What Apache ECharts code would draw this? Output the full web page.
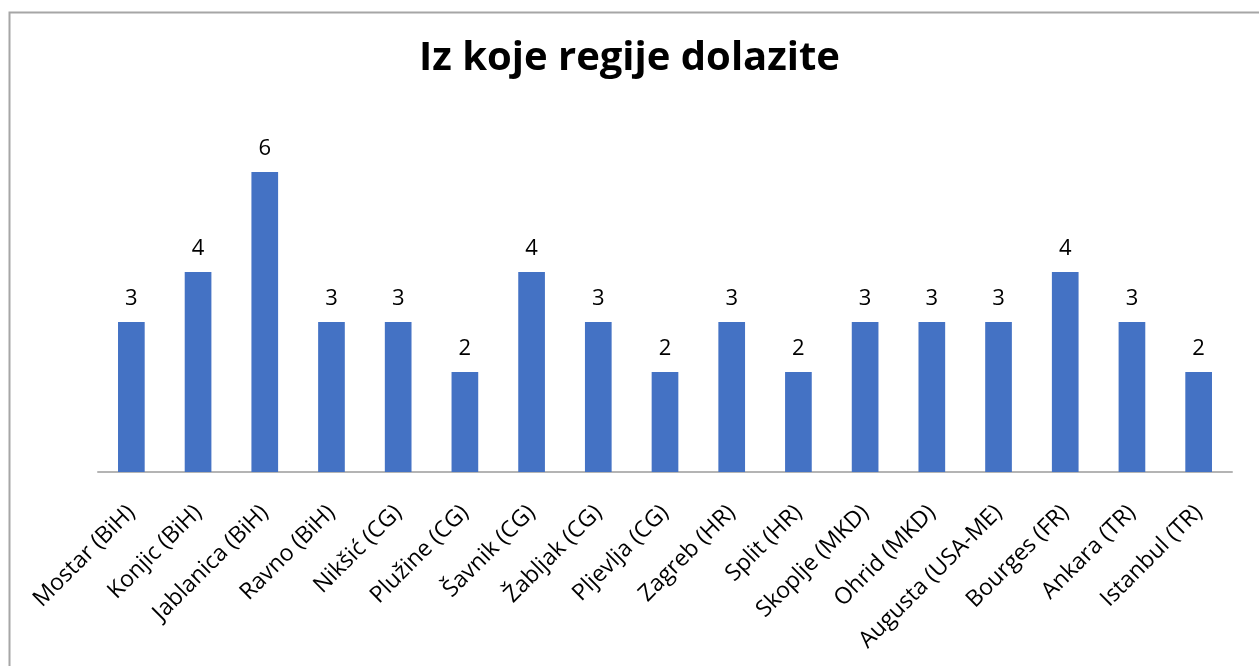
<!DOCTYPE html>
<html>
<head>
<meta charset="utf-8">
<title>Iz koje regije dolazite</title>
<script src="https://cdn.jsdelivr.net/npm/echarts@6/dist/echarts.min.js"></script>
<style>
  html, body { margin: 0; padding: 0; background: #fff; }
  #main { width: 1259px; height: 666px; }
</style>
</head>
<body>
<div id="main"></div>
<script>
// Regions (x axis categories)
const regions = [
  'Mostar (BiH)', 'Konjic (BiH)', 'Jablanica (BiH)', 'Ravno (BiH)',
  'Nikšić (CG)', 'Plužine (CG)', 'Šavnik (CG)', 'Žabljak (CG)',
  'Pljevlja (CG)', 'Zagreb (HR)', 'Split (HR)', 'Skoplje (MKD)',
  'Ohrid (MKD)', 'Augusta (USA-ME)', 'Bourges (FR)', 'Ankara (TR)',
  'Istanbul (TR)'
];

// Number of answers per region
const counts = [3, 4, 6, 3, 3, 2, 4, 3, 2, 3, 2, 3, 3, 3, 4, 3, 2];

const chartTitle = 'Iz koje regije dolazite';

const font = '"Open Sans", "Noto Sans", sans-serif';

const makeChart = () => {
  const chart = echarts.init(document.getElementById('main'), null, { renderer: 'canvas' });
  chart.setOption({
    animation: false,
    // outer chart frame, cut off at right and bottom like the screenshot
    graphic: [{
      type: 'rect',
      left: 7,
      top: 10,
      shape: { width: 1280, height: 700 },
      style: { fill: 'none', stroke: '#a6a6a6', lineWidth: 2 },
      silent: true
    }],
    title: {
      text: chartTitle,
      left: 'center',
      top: 34,
      textStyle: {
        fontFamily: font,
        fontWeight: 'bold',
        fontSize: 40,
        color: '#000'
      }
    },
    grid: { left: 98, right: 27, top: 172, bottom: 194 },
    xAxis: {
      type: 'category',
      data: regions,
      axisLine: { lineStyle: { color: '#b4b4b4', width: 2 } },
      axisTick: { show: false },
      axisLabel: {
        interval: 0,
        rotate: 45,
        margin: 37,
        fontFamily: font,
        fontSize: 23,
        color: '#000'
      }
    },
    yAxis: {
      type: 'value',
      min: 0,
      max: 6,
      show: false,
      splitLine: { show: false }
    },
    series: [{
      type: 'bar',
      data: counts,
      barWidth: '40%',
      itemStyle: { color: '#4472c4' },
      label: {
        show: true,
        position: 'top',
        distance: 12,
        fontFamily: font,
        fontSize: 22,
        color: '#000'
      }
    }]
  });
};

makeChart();
</script>
</body>
</html>
